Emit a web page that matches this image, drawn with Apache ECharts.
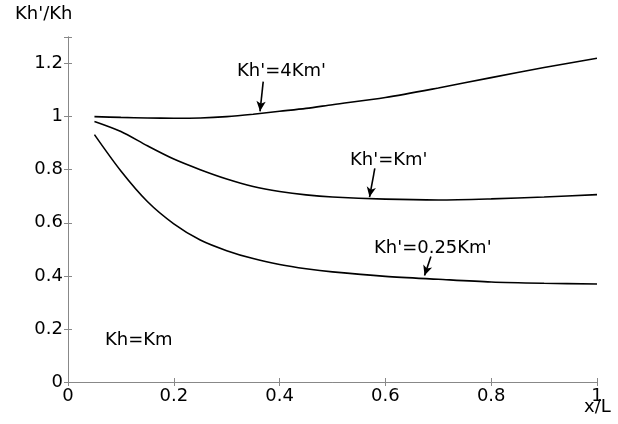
<!DOCTYPE html>
<html>
<head>
<meta charset="utf-8">
<script src="https://cdn.jsdelivr.net/npm/echarts@6/dist/echarts.min.js"></script>
<style>
  html, body { margin: 0; padding: 0; background: #fff; }
  #chart { width: 618px; height: 424px; }
</style>
</head>
<body>
<div id="chart"></div>
<script>
// x/L 取样点
var xs = [0.05, 0.1, 0.15, 0.2, 0.25, 0.3, 0.35, 0.4, 0.45, 0.5, 0.6, 0.7, 0.8, 0.9, 1.0];
// Kh'=4Km'
var k4 = [1.0, 0.997, 0.995, 0.994, 0.995, 1.0, 1.009, 1.02, 1.031, 1.045, 1.072, 1.108, 1.147, 1.185, 1.22];
// Kh'=Km'
var k1 = [0.982, 0.944, 0.89, 0.84, 0.80, 0.765, 0.737, 0.718, 0.705, 0.697, 0.689, 0.686, 0.69, 0.697, 0.706];
// Kh'=0.25Km'
var k025 = [0.932, 0.795, 0.68, 0.596, 0.535, 0.495, 0.465, 0.443, 0.427, 0.415, 0.398, 0.387, 0.377, 0.372, 0.369];

// 箭头 (起点, 终点) 数据坐标
var arrow4 = [[0.369, 1.132], [0.363, 1.020]];
var arrow1 = [[0.580, 0.805], [0.570, 0.697]];
var arrow025 = [[0.686, 0.473], [0.674, 0.401]];

var FONT = 'DejaVu Sans';
var axisGray = '#888';

function pairs(x, y) {
	var out = [];
	for (var i = 0; i < x.length; i++) {
		out.push([x[i], y[i]]);
	}
	return out;
}

function arrowLine(a) {
	return {
		silent: true,
		symbol: ['none', 'arrow'],
		symbolSize: [7, 10],
		label: {show: false},
		lineStyle: {color: '#000', width: 1.6, type: 'solid'},
		data: [[{coord: a[0]}, {coord: a[1]}]]
	};
}

function curve(name, data, arrow) {
	return {
		name: name,
		type: 'line',
		data: pairs(xs, data),
		smooth: 0.3,
		showSymbol: false,
		lineStyle: {color: '#000', width: 1.6},
		markLine: arrowLine(arrow)
	};
}

function txt(str, left, top) {
	return {
		type: 'text',
		left: left,
		top: top,
		style: {text: str, fontFamily: FONT, fontSize: 18, fill: '#000'}
	};
}

var chart = echarts.init(document.getElementById('chart'));
var option = {
	animation: false,
	backgroundColor: '#fff',
	grid: {left: 68, right: 21, top: 37, bottom: 42},
	xAxis: [
		{
			type: 'value', min: 0, max: 1, interval: 0.2, position: 'bottom',
			axisLine: {show: true, lineStyle: {color: axisGray}},
			axisTick: {show: true, inside: true, length: 4, lineStyle: {color: axisGray}},
			axisLabel: {color: '#000', fontFamily: FONT, fontSize: 18, margin: 5},
			splitLine: {show: false}
		},
		{
			type: 'value', min: 0, max: 1, interval: 0.2, position: 'top',
			axisLine: {show: true, lineStyle: {color: axisGray}},
			axisTick: {show: true, inside: true, length: 4, lineStyle: {color: axisGray}},
			axisLabel: {show: false},
			splitLine: {show: false}
		}
	],
	yAxis: [
		{
			type: 'value', min: 0, max: 1.3, interval: 0.2, position: 'left',
			axisLine: {show: true, lineStyle: {color: axisGray}},
			axisTick: {show: true, inside: true, length: 4, lineStyle: {color: axisGray}},
			axisLabel: {
				color: '#000', fontFamily: FONT, fontSize: 18, margin: 5,
				formatter: function (v) { return v > 1.25 ? '' : String(Math.round(v * 10) / 10); }
			},
			splitLine: {show: false}
		},
		{
			type: 'value', min: 0, max: 1.3, interval: 0.2, position: 'right',
			axisLine: {show: true, lineStyle: {color: axisGray}},
			axisTick: {show: true, inside: true, length: 4, lineStyle: {color: axisGray}},
			axisLabel: {show: false},
			splitLine: {show: false}
		}
	],
	series: [
		curve("Kh'=4Km'", k4, arrow4),
		curve("Kh'=Km'", k1, arrow1),
		curve("Kh'=0.25Km'", k025, arrow025)
	],
	graphic: [
		txt("Kh'/Kh", 15, 5),
		txt("x/L", 584, 398),
		txt("Kh'=4Km'", 237, 62),
		txt("Kh'=Km'", 350, 151),
		txt("Kh'=0.25Km'", 374, 239),
		txt("Kh=Km", 105, 331)
	]
};
chart.setOption(option);
</script>
</body>
</html>
